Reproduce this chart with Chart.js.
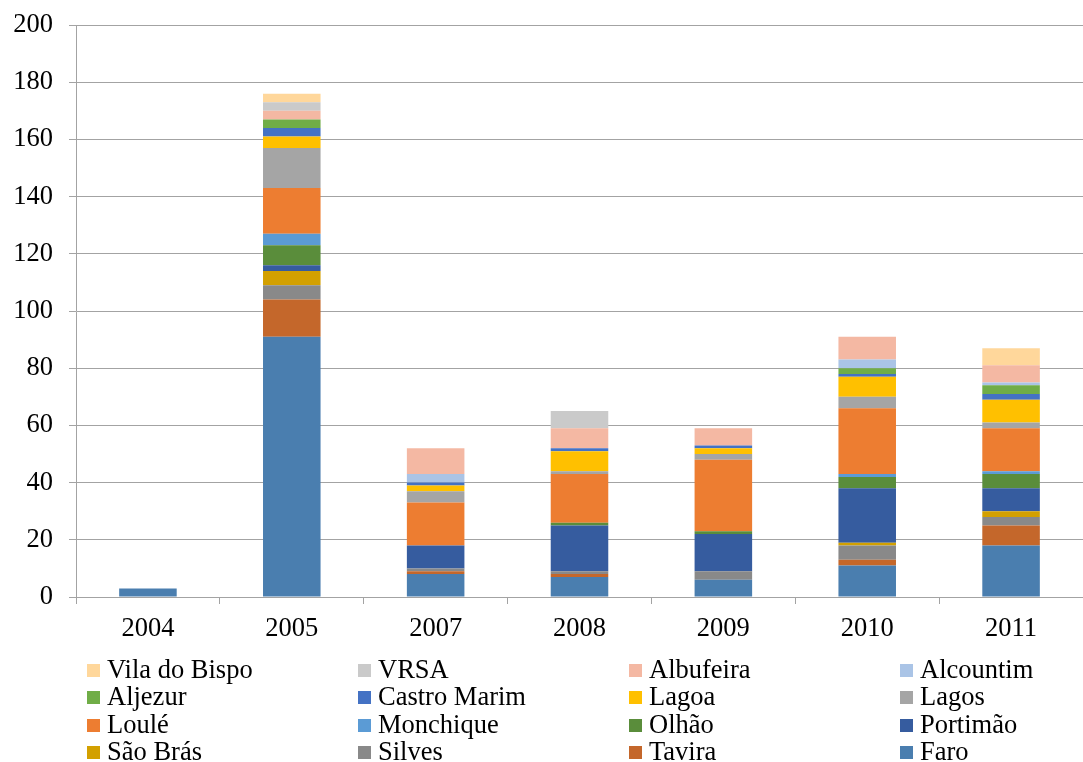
<!DOCTYPE html>
<html>
<head>
<meta charset="utf-8">
<script src="https://cdn.jsdelivr.net/npm/chart.js@4"></script>
<style>
  html, body { margin: 0; padding: 0; background: #fff; }
  #wrap { position: relative; width: 1083px; height: 762px; overflow: hidden; }
  #c { position: absolute; left: 0; top: 0; }
  #legend { position: absolute; left: 0; top: 0; width: 1083px; height: 762px; pointer-events: none; }
  .sq { position: absolute; width: 13px; height: 13px; }
  .lt { position: absolute; font-family: "Liberation Serif", "Times New Roman", serif; font-size: 26.5px; line-height: 27px; color: #000; white-space: nowrap; }
</style>
</head>
<body>
<div id="wrap">
  <canvas id="c" width="1083" height="762"></canvas>
  <div id="legend"></div>
</div>
<script>
// Categories (years)
const years = ["2004", "2005", "2007", "2008", "2009", "2010", "2011"];
// Y-axis tick range
const yMin = 0, yMax = 200, yStep = 20;

// Series values (stack order bottom -> top)
const faro        = [3, 91, 8, 7, 6, 11, 18];
const tavira      = [0, 13, 1, 1, 0, 2, 7];
const silves      = [0, 5, 1, 1, 3, 5, 3];
const saoBras     = [0, 5, 0, 0, 0, 1, 2];
const portimao    = [0, 2, 8, 16, 13, 19, 8];
const olhao       = [0, 7, 0, 1, 1, 4, 5];
const monchique   = [0, 4, 0, 0, 0, 1, 1];
const loule       = [0, 16, 15, 17, 25, 23, 15];
const lagos       = [0, 14, 4, 1, 2, 4, 2];
const lagoa       = [0, 4, 2, 7, 2, 7, 8];
const castroMarim = [0, 3, 1, 1, 1, 1, 2];
const aljezur     = [0, 3, 0, 0, 0, 2, 3];
const alcountim   = [0, 0, 3, 0, 0, 3, 1];
const albufeira   = [0, 3, 9, 7, 6, 8, 6];
const vrsa        = [0, 3, 0, 6, 0, 0, 0];
const vilaDoBispo = [0, 3, 0, 0, 0, 0, 6];

const seriesNames = ["Faro", "Tavira", "Silves", "São Brás", "Portimão", "Olhão", "Monchique", "Loulé",
  "Lagos", "Lagoa", "Castro Marim", "Aljezur", "Alcountim", "Albufeira", "VRSA", "Vila do Bispo"];
const seriesValues = [faro, tavira, silves, saoBras, portimao, olhao, monchique, loule,
  lagos, lagoa, castroMarim, aljezur, alcountim, albufeira, vrsa, vilaDoBispo];
const seriesColors = ["#4A7EAF", "#C4672B", "#898989", "#D3A000", "#365C9F", "#5A8D3B", "#5B9BD5", "#ED7D31",
  "#A5A5A5", "#FFC000", "#4472C4", "#70AD47", "#AAC4E6", "#F4B8A3", "#CACACA", "#FFD79B"];

const FONT = { family: "'Liberation Serif', 'Times New Roman', serif", size: 26.5 };
const GRID = "#A3A3A3";

const chart = new Chart(document.getElementById('c'), {
  type: 'bar',
  data: {
    labels: years,
    datasets: seriesNames.map((n, i) => ({
      label: n,
      data: seriesValues[i],
      backgroundColor: seriesColors[i],
      borderWidth: 0,
      barPercentage: 0.4,
      categoryPercentage: 1.0
    }))
  },
  options: {
    responsive: false,
    animation: false,
    devicePixelRatio: 1,
    layout: { padding: { top: 25, right: 0, bottom: 0, left: 0 } },
    plugins: { legend: { display: false }, tooltip: { enabled: false }, title: { display: false } },
    scales: {
      x: {
        stacked: true,
        afterFit: s => { s.height = 165; s.paddingLeft = 0; s.paddingRight = 0; },
        grid: { display: true, drawOnChartArea: false, drawTicks: true, tickLength: 7, color: GRID, offset: true },
        border: { display: true, color: GRID, width: 1 },
        ticks: { font: FONT, color: '#000', padding: 9 }
      },
      y: {
        stacked: true,
        min: yMin, max: yMax,
        afterFit: s => { s.width = 76; s.paddingTop = 0; s.paddingBottom = 0; },
        grid: { display: true, drawTicks: true, tickLength: 7, color: GRID, lineWidth: 1 },
        border: { display: true, color: GRID, width: 1 },
        ticks: { stepSize: yStep, font: FONT, color: '#000', padding: 16 }
      }
    }
  }
});

// Custom legend built from the chart's datasets (reverse order, 4 columns)
(function buildLegend() {
  const lg = document.getElementById('legend');
  const ds = chart.data.datasets.slice().reverse();
  const cols = 4, colLeft = 87, colPitch = 271, rowTop = 664, rowPitch = 27.4;
  ds.forEach((d, i) => {
    const r = Math.floor(i / cols), c = i % cols;
    const sq = document.createElement('div');
    sq.className = 'sq';
    sq.style.left = (colLeft + c * colPitch) + 'px';
    sq.style.top = (rowTop + r * rowPitch) + 'px';
    sq.style.background = d.backgroundColor;
    lg.appendChild(sq);
    const t = document.createElement('div');
    t.className = 'lt';
    t.style.left = (colLeft + c * colPitch + 20) + 'px';
    t.style.top = (rowTop - 8 + r * rowPitch) + 'px';
    t.textContent = d.label;
    lg.appendChild(t);
  });
})();
</script>
</body>
</html>
